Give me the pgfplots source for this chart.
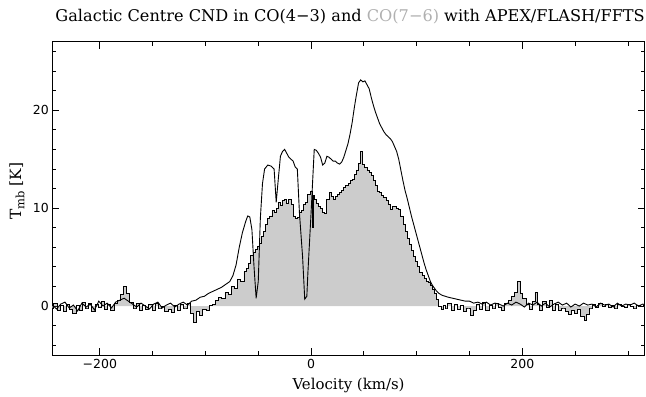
\documentclass[border=0pt]{standalone}
\usepackage{fontspec}
\setmainfont{DejaVu Serif}
\newfontfamily\tickfont{DejaVu Sans}
\usepackage{pgfplots}
\usepackage{pgfplotstable}
\pgfplotsset{compat=1.18}
\definecolor{fillgray}{HTML}{CCCCCC}
\definecolor{titlegray}{HTML}{B0B0B0}

\pgfplotstableread{
v T
-245 0.1
-241 -0.3
-237 0.2
-233 0.4
-229 -0.2
-225 0.1
-221 -0.5
-217 0.3
-213 -0.1
-209 0.2
-205 -0.4
-201 0.5
-197 0.0
-193 0.3
-189 -0.2
-185 0.4
-181 0.6
-177 0.8
-173 0.5
-169 0.2
-165 -0.1
-161 0.3
-157 0.0
-153 -0.3
-149 0.2
-145 0.4
-141 -0.2
-137 0.1
-133 0.3
-129 -0.1
-125 0.2
-121 0.4
-117 0.1
-113 0.5
-109 0.6
-105 0.9
-101 1.0
-97 1.3
-93 1.5
-89 1.7
-85 1.9
-81 2.2
-77 2.5
-74 3.1
-71 4.2
-68 6.0
-65 7.5
-62 8.6
-60 9.2
-58 9.1
-56 7.8
-54 4.0
-52 0.8
-50 2.5
-48 9.0
-46 12.5
-44 14.0
-41 14.4
-38 14.3
-35 14.0
-33 10.6
-31 13.0
-29 15.3
-27 15.8
-25 16.0
-23 15.6
-21 15.2
-19 15.0
-17 14.8
-15 14.2
-13 14.0
-11 9.5
-8 5.0
-6 0.7
-4 1.0
-3 3.4
0 9.5
3 16.0
5 15.9
7 15.6
9 15.2
11 14.4
13 14.6
15 15.3
17 15.2
19 15.0
21 14.8
23 14.8
25 14.6
27 14.5
29 14.7
31 15.2
33 15.9
35 16.6
37 17.6
39 18.8
41 20.3
43 21.6
45 22.8
47 23.1
49 22.9
51 23.0
53 22.6
55 22.2
57 21.3
59 20.5
61 19.8
63 19.2
65 18.6
67 18.2
69 17.8
71 17.5
73 17.3
75 17.1
77 16.8
79 16.3
81 15.8
83 15.0
85 13.9
87 12.8
89 11.8
91 11.0
93 10.1
95 9.2
97 8.4
99 7.6
101 6.8
103 6.0
105 5.2
107 4.4
109 3.7
111 3.1
113 2.5
115 2.1
117 1.8
119 1.5
121 1.3
124 1.1
127 1.0
130 0.9
134 0.8
138 0.7
142 0.6
146 0.5
150 0.5
154 0.3
158 0.4
162 0.2
166 0.4
170 0.1
174 0.3
178 0.2
182 0.0
186 0.3
190 0.1
194 0.4
198 0.2
202 -0.1
206 0.3
210 0.1
214 0.4
218 0.0
222 0.3
226 -0.1
230 0.2
234 0.4
238 0.1
242 0.3
246 -0.1
250 0.2
254 0.0
258 0.3
262 0.1
266 0.2
270 -0.1
274 0.3
278 0.1
282 0.2
286 -0.1
290 0.3
294 0.0
298 0.2
302 0.1
306 0.3
310 0.0
314 0.2
317 0.1
}\cofourthree

\pgfplotstableread{
v T
-245 -0.2
-242 0.3
-239 -0.4
-236 0.1
-233 -0.6
-230 0.2
-227 -0.3
-224 -0.8
-221 0.1
-218 -0.5
-215 0.4
-212 -0.2
-209 0.3
-206 -0.6
-203 0.2
-200 -0.1
-197 0.5
-194 -0.3
-191 0.2
-188 -0.4
-185 0.3
-182 0.6
-179 1.2
-176 2.0
-173 1.3
-170 0.4
-167 -0.2
-164 0.3
-161 -0.4
-158 0.1
-155 -0.3
-152 0.2
-149 -0.5
-146 0.3
-143 -0.2
-140 0.0
-137 -0.6
-134 -0.3
-131 -0.7
-128 0.1
-125 -0.4
-122 0.2
-119 -0.2
-116 0.3
-113 -0.8
-110 -1.7
-107 -0.6
-104 -1.0
-101 -0.3
-98 -0.5
-95 0.1
-92 0.2
-89 0.6
-86 0.9
-83 0.8
-80 1.4
-77 1.2
-74 2.0
-71 1.8
-68 2.7
-65 2.5
-62 3.5
-60 3.8
-58 4.4
-56 5.2
-54 5.5
-52 5.8
-50 6.1
-48 6.4
-46 7.1
-44 7.6
-42 8.3
-40 8.9
-38 9.2
-36 9.8
-34 9.6
-32 10.0
-30 10.6
-28 10.3
-26 10.8
-24 10.9
-22 10.5
-20 10.9
-18 10.4
-16 9.2
-14 8.9
-12 9.0
-10 9.6
-8 9.8
-6 10.4
-4 10.6
-2 11.4
0 11.7
1 11.7
2 8.0
3 11.3
4 10.9
6 10.5
8 10.2
10 10.0
12 9.6
14 9.5
16 10.9
18 11.6
20 11.2
22 10.9
24 11.2
26 11.4
28 11.6
30 11.8
32 12.1
34 12.3
36 12.5
38 12.8
40 12.9
42 13.4
44 13.9
46 14.6
48 15.8
50 14.5
52 14.2
54 13.9
56 13.6
58 13.3
60 12.8
62 12.3
64 11.7
66 11.6
68 11.3
70 11.1
72 10.8
74 10.4
76 9.9
78 10.2
80 10.2
82 10.0
84 9.9
86 9.2
88 8.3
90 7.6
92 6.9
94 6.3
96 5.7
98 5.1
100 4.6
102 4.0
104 3.4
106 3.1
108 2.8
110 2.5
112 2.4
114 2.1
116 1.7
118 1.3
120 0.7
122 0.0
124 -0.3
126 0.1
128 -0.2
131 0.3
134 -0.4
137 0.2
140 -0.3
143 0.1
146 -0.6
149 -0.2
152 -1.0
155 -0.5
158 0.2
161 -0.3
164 0.4
167 -0.4
170 0.1
173 -0.2
176 0.3
179 -0.1
182 -0.5
185 0.3
188 0.6
191 1.0
194 1.4
197 2.5
199 1.3
202 0.8
205 0.2
208 -0.3
211 0.5
213 1.4
215 0.2
218 -0.4
221 0.5
224 -0.1
227 0.6
230 -0.5
233 0.2
236 -0.4
239 -0.2
242 -0.6
245 -0.9
248 -0.4
251 -0.8
254 -0.3
257 -1.1
260 -1.5
262 -0.9
265 -0.2
268 0.2
271 -0.1
274 0.3
277 0.0
280 0.2
283 -0.1
286 0.1
289 -0.2
292 0.2
295 0.0
298 -0.1
301 0.2
304 0.0
307 -0.2
310 0.1
313 0.0
317 0.1
}\cosevensix

\begin{document}
\begin{tikzpicture}[x=1bp,y=1bp]
\useasboundingbox (0,0) rectangle (646,396);
\begin{axis}[
  at={(52.3bp,41bp)}, anchor=south west,
  scale only axis, width=592.5bp, height=313.3bp,
  xmin=-245, xmax=316, ymin=-5, ymax=27,
  xtick={-200,0,200}, xticklabels={−200,0,200},
  minor xtick={-200,-150,...,300},
  ytick={0,10,20}, yticklabels={0,10,20},
  minor ytick={-4,-2,...,26},
  tick align=inside, tick pos=both,
  major tick length=7bp, minor tick length=4bp,
  every tick/.style={black, line width=0.8pt},
  axis line style={line width=0.9pt},
  ticklabel style={font=\tickfont\fontsize{12.5}{12.5}\selectfont},
  xticklabel style={yshift=-1bp},
  xlabel={Velocity (km/s)},
  ylabel={T\raisebox{-0.4ex}{\fontsize{11.5}{11.5}\selectfont mb} [K]},
  xlabel style={font=\fontsize{15}{15}\selectfont, at={(axis description cs:0.5,-0.098)}, anchor=center},
  ylabel style={font=\fontsize{15.5}{15.5}\selectfont, at={(axis description cs:-0.0595,0.523)}, anchor=center},
  clip=true,
]
\addplot[const plot mark mid, fill=fillgray, draw=none] table[x=v,y=T] {\cosevensix} \closedcycle;
\addplot[const plot mark mid, black, line width=0.9pt] table[x=v,y=T] {\cosevensix};
\addplot[sharp plot, black, line width=0.9pt] table[x=v,y=T] {\cofourthree};
\end{axis}
\node[anchor=base east, font=\fontsize{16.2}{16.2}\selectfont, inner sep=0pt] at (645,375)
  {Galactic Centre CND in CO(4−3) and \textcolor{titlegray}{CO(7−6)} with APEX/FLASH/FFTS};
\end{tikzpicture}
\end{document}
